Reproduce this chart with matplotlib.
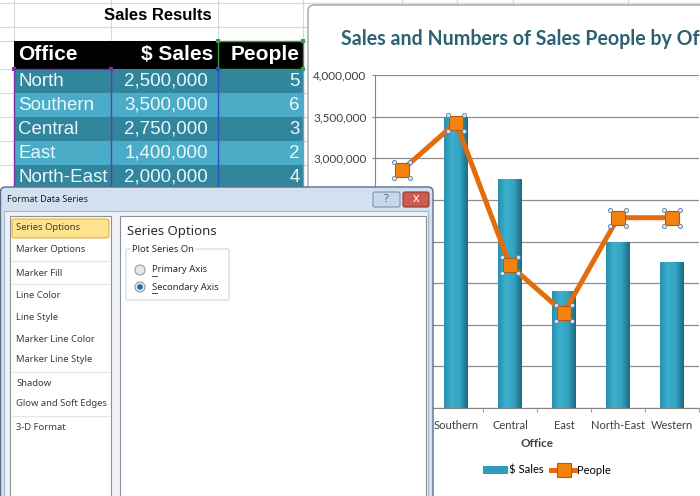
import matplotlib
matplotlib.use('Agg')
import matplotlib.pyplot as plt
from matplotlib.patches import Rectangle, FancyBboxPatch, Circle
from matplotlib.colors import LinearSegmentedColormap
from matplotlib.ticker import FuncFormatter
from matplotlib import transforms
import numpy as np

# data
offices = ['North', 'Southern', 'Central', 'East', 'North-East', 'Western']
sales = [2500000, 3500000, 2750000, 1400000, 2000000, 1750000]
people = [5, 6, 3, 2, 4, 4]
table_cols = ['Office', '$ Sales', 'People']
menu = ['Series Options', 'Marker Options', 'Marker Fill', 'Line Color', 'Line Style',
        'Marker Line Color', 'Marker Line Style', 'Shadow', 'Glow and Soft Edges', '3-D Format']
axis_opts = ['Primary Axis', 'Secondary Axis']

W, H = 700, 496
arial = ['Liberation Sans', 'DejaVu Sans']
calibri = ['Lato', 'DejaVu Sans']
segoe = ['Noto Sans', 'DejaVu Sans']

def px(x, y, w, h):
    # pikselilaatikko -> kuvan murto-osat
    return [x/W, 1 - (y + h)/H, w/W, h/H]

fig = plt.figure(figsize=(7, 4.96), dpi=100)

# --- taustalla taulukko ---
bg = fig.add_axes([0, 0, 1, 1], zorder=0)
bg.set_xlim(0, W); bg.set_ylim(H, 0); bg.axis('off')
gridc = '#D0D7E5'
for y in [3, 27, 41, 69, 93, 117, 141, 165, 189]:
    bg.plot([0, W], [y, y], color=gridc, lw=0.8, zorder=1)
for x in [14, 111, 218, 303, 402, 457, 513, 628]:
    bg.plot([x, x], [0, H], color=gridc, lw=0.8, zorder=1)

bg.text(158, 16, 'Sales Results', ha='center', va='center', fontsize=12, fontweight='bold', family=arial, zorder=3)
bg.add_patch(Rectangle((14, 41), 289, 28, fc='black', zorder=3))
bg.text(18, 55, table_cols[0], ha='left', va='center', color='white', fontsize=15, fontweight='bold', family=arial, zorder=4)
bg.text(213, 55, table_cols[1], ha='right', va='center', color='white', fontsize=15, fontweight='bold', family=arial, zorder=4)
bg.text(300, 55, table_cols[2], ha='right', va='center', color='white', fontsize=15, fontweight='bold', family=arial, zorder=4)
for i, (o, s, p) in enumerate(zip(offices, sales, people)):
    y0 = 69 + 24*i
    bg.add_patch(Rectangle((14, y0), 289, 24, fc='#31869E' if i % 2 == 0 else '#4AACC6', zorder=3))
    if y0 > 187:
        # dialogi peittaa loput rivit
        continue
    kw = dict(va='center', color='#EAF7FB', fontsize=13.5, family=arial, zorder=4)
    bg.text(18, y0 + 12.5, o, ha='left', **kw)
    bg.text(208, y0 + 12.5, '{:,}'.format(s), ha='right', **kw)
    bg.text(300, y0 + 12.5, str(p), ha='right', **kw)

# valintakehykset
purple, blue, green = '#7B2FB0', '#2A4FC0', '#3E9A3E'
bg.plot([14, 14, 111, 111], [H, 69, 69, H], color=purple, lw=1, zorder=5)
bg.plot([218, 218], [69, H], color=blue, lw=1, zorder=5)
bg.plot([303, 303], [69, H], color='#7A95D8', lw=1, zorder=5)
bg.add_patch(Rectangle((218, 41), 85, 28, fc='none', ec=green, lw=1, zorder=5))
for (cx, cy, c) in [(14, 69, purple), (111, 69, purple), (218, 69, blue), (218, 41, green), (303, 41, green), (303, 69, green)]:
    bg.add_patch(Rectangle((cx - 2, cy - 2), 4, 4, fc=c, ec='none', zorder=6))

# kaavion pohja
bg.add_patch(FancyBboxPatch((308, 5), 420, 520, boxstyle='round,pad=0,rounding_size=6',
                            fc='white', ec='#A3A3A3', lw=1, zorder=2))
bg.text(341, 39, 'Sales and Numbers of Sales People by Office', ha='left', va='center',
        fontsize=14.1, fontweight='bold', color='#2C6273', family=calibri, zorder=3)

# --- kaavio ---
ax = fig.add_axes(px(375, 75, 324, 333), zorder=3)
ax.set_facecolor('none')
x = np.arange(len(offices))
bars = ax.bar(x, sales, width=0.43, color='#2F9DBA', edgecolor='none', zorder=2, label='$ Sales')
cm = LinearSegmentedColormap.from_list('palkki', ['#2890AC', '#3CB0CE', '#33A3C1', '#1C6A80'])
grad = np.linspace(0, 1, 60).reshape(1, -1)
for b in bars:
    im = ax.imshow(grad, extent=[b.get_x(), b.get_x() + b.get_width(), 0, b.get_height()],
                   cmap=cm, aspect='auto', zorder=2)
    im.set_clip_path(b)
ax.set_xlim(-0.5, len(offices) - 0.5)
ax.set_ylim(0, 4000000)
ax.set_yticks(np.arange(0, 4000001, 500000))
ax.yaxis.set_major_formatter(FuncFormatter(lambda v, p: '{:,.0f}'.format(v)))
ax.grid(axis='y', color='#8E8E8E', lw=0.9)
ax.set_axisbelow(True)
for s in ['top', 'right']:
    ax.spines[s].set_visible(False)
for s in ['left', 'bottom']:
    ax.spines[s].set_color('#868686')
ax.set_xticks(x, offices)
ax.set_xticks(np.arange(-0.5, len(offices), 1), minor=True)
ax.tick_params(axis='x', which='major', length=0, pad=8.5, labelsize=8, labelcolor='#404040')
ax.tick_params(axis='x', which='minor', length=3, color='#868686')
ax.tick_params(axis='y', length=2, pad=4, labelsize=8.5, labelcolor='#404040', color='#868686')
for t in ax.get_xticklabels() + ax.get_yticklabels():
    t.set_family(calibri)
ax.set_xlabel('Office', fontsize=8.5, fontweight='bold', color='#404040', labelpad=5, family=calibri)

ax2 = ax.twinx()
ax2.set_zorder(4)
ax2.set_ylim(0, 7)
ax2.set_yticks([])
for s in ax2.spines.values():
    s.set_visible(False)
line, = ax2.plot(x, people, color='#E46C0A', lw=3.6, marker='s', ms=10, mfc='#F5820F',
                 mec='#B9580A', mew=0.8, zorder=3, label='People')
# valintakahvat
for dx, dy in [(-8, -8), (-8, 8), (8, -8), (8, 8)]:
    tr = transforms.offset_copy(ax2.transData, fig=fig, x=dx, y=dy, units='dots')
    ax2.plot(x, people, ls='none', marker='o', ms=3, mfc='#DCE8F5', mec='#5B7DA6', mew=0.6,
             transform=tr, clip_on=False, zorder=4)

leg = ax.legend([bars, line], ['$ Sales', 'People'], loc='center', bbox_to_anchor=(547/W, 1 - 470/H),
                bbox_transform=fig.transFigure, ncol=2, frameon=False,
                handlelength=2.3, handletextpad=0.1, columnspacing=0.6, prop={'family': calibri, 'size': 8})

# --- dialogi paalle ---
ov = fig.add_axes([0, 0, 1, 1], zorder=10)
ov.set_xlim(0, W); ov.set_ylim(H, 0); ov.axis('off')
ov.add_patch(FancyBboxPatch((0.5, 187), 432.5, 330, boxstyle='round,pad=0,rounding_size=5',
                            fc='#D3E0EF', ec='#5B6F8A', lw=1))
ov.add_patch(Rectangle((4, 211), 424, 300, fc='#EEF1F5', ec='#A5B6CA', lw=0.8))
ov.text(7, 200, 'Format Data Series', ha='left', va='center', fontsize=6.5, color='#1E1E1E', family=segoe)
ov.add_patch(FancyBboxPatch((373, 192), 27, 15, boxstyle='round,pad=0,rounding_size=2', fc='#C7D8EC', ec='#7F93AD', lw=0.8))
ov.text(386.5, 199.5, '?', ha='center', va='center', fontsize=8, fontweight='bold', color='#55657A', family=segoe)
ov.add_patch(FancyBboxPatch((403, 192), 26, 15, boxstyle='round,pad=0,rounding_size=2', fc='#CD5B4E', ec='#8A3A33', lw=0.8))
ov.text(416, 199, 'x', ha='center', va='center', fontsize=9, fontweight='bold', color='white', family=segoe)

ov.add_patch(Rectangle((10, 216), 101, 300, fc='white', ec='#8D9196', lw=0.8))
ov.add_patch(Rectangle((120, 216), 306, 300, fc='white', ec='#8D9196', lw=0.8))
ov.add_patch(FancyBboxPatch((12, 219), 97, 19, boxstyle='round,pad=0,rounding_size=2', fc='#FFE28E', ec='#E0B144', lw=0.8))
menu_y = [228, 250, 273, 296, 317, 339, 360, 383, 404, 428]
for m, y in zip(menu, menu_y):
    ov.text(16, y, m, ha='left', va='center', fontsize=6.8, color='#3B3B3B', family=segoe)
for y in [261, 284, 372, 416]:
    ov.plot([12, 109], [y, y], color='#E6E6E6', lw=1)

ov.text(127, 231, 'Series Options', ha='left', va='center', fontsize=9.5, color='#2B2B2B', family=segoe)
ov.add_patch(FancyBboxPatch((126, 249), 103, 51, boxstyle='round,pad=0,rounding_size=2', fc='white', ec='#D0D7DD', lw=0.8))
ov.text(132, 249, 'Plot Series On', ha='left', va='center', fontsize=6.8, color='#2B2B2B', family=segoe,
        bbox=dict(fc='white', ec='none', pad=1))
for i, (o, y) in enumerate(zip(axis_opts, [270, 287])):
    ov.add_patch(Circle((140, y), 5, fc='#E8E8E8', ec='#9A9A9A', lw=0.8))
    if i == 1:
        ov.add_patch(Circle((140, y), 2.8, fc='#1E6CA8', ec='none'))
    ov.text(152, y, o, ha='left', va='center', fontsize=6.8, color='#2B2B2B', family=segoe)
    ov.plot([152, 157], [y + 5.5, y + 5.5], color='#2B2B2B', lw=0.6)

fig.savefig('out.png', dpi=100)
